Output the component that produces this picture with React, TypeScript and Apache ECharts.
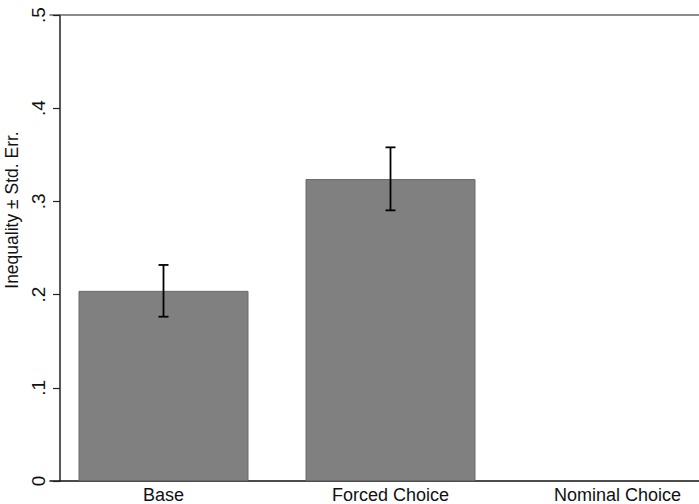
import React, { useEffect, useRef } from "react";
import * as echarts from "echarts";

const categories = ["Base", "Forced Choice", "Nominal Choice"];
const means: (number | null)[] = [0.204, 0.324, null];
const lower: (number | null)[] = [0.1763, 0.2904, null];
const upper: (number | null)[] = [0.2318, 0.358, null];
const yTicks = [0, 0.1, 0.2, 0.3, 0.4, 0.5];

const FONT = "'Liberation Sans', Arial, Helvetica, sans-serif";

export default function App() {
  const ref = useRef<HTMLDivElement>(null);
  useEffect(() => {
    if (!ref.current) return;
    const chart = echarts.init(ref.current, undefined, { renderer: "svg" });
    const errData = categories
      .map((c, i) => (lower[i] == null ? null : [i, lower[i], upper[i]]))
      .filter((d) => d !== null);
    chart.setOption({
      animation: false,
      backgroundColor: "#ffffff",
      textStyle: { fontFamily: FONT },
      grid: { left: 50, right: -32, top: 15, bottom: 23, containLabel: false, outerBoundsMode: "none" },
      xAxis: [
        {
          type: "category",
          data: categories,
          position: "bottom",
          boundaryGap: true,
          axisLine: { show: true, lineStyle: { color: "#111", width: 1.5 } },
          axisTick: { show: false },
          axisLabel: { color: "#111", fontSize: 18, margin: 5, fontFamily: FONT },
          splitLine: { show: false },
        },
        {
          type: "category",
          data: categories,
          position: "top",
          axisLine: { show: true, lineStyle: { color: "#666", width: 1.5 } },
          axisTick: { show: false },
          axisLabel: { show: false },
          splitLine: { show: false },
        },
      ],
      yAxis: {
        type: "value",
        min: 0,
        max: 0.5,
        interval: 0.1,
        offset: -10,
        name: "Inequality \u00b1 Std. Err.",
        nameLocation: "middle",
        nameRotate: 90,
        nameGap: 38,
        nameTextStyle: { color: "#111", fontSize: 17.5, fontFamily: FONT, padding: [0, 0, 0, 76] },
        axisLine: { show: true, lineStyle: { color: "#222", width: 1.5 } },
        axisTick: { show: true, length: 7, lineStyle: { color: "#222", width: 1.2 } },
        axisLabel: {
          color: "#111",
          fontSize: 19,
          rotate: 90,
          margin: 12,
          fontFamily: FONT,
          customValues: yTicks,
          formatter: (v: number) => (v === 0 ? "0" : v.toFixed(1).replace(/^0/, "")),
        },
        splitLine: { show: false },
      },
      series: [
        {
          type: "bar",
          data: means,
          barWidth: 170,
          itemStyle: { color: "#808080", borderColor: "#6a6a6a", borderWidth: 1 },
          z: 2,
        },
        {
          type: "custom",
          data: errData,
          z: 5,
          renderItem: (params: any, api: any) => {
            const x = api.value(0);
            const lo = api.coord([x, api.value(1)]);
            const hi = api.coord([x, api.value(2)]);
            const hw = 5;
            const style = { stroke: "#000", lineWidth: 1.8 };
            return {
              type: "group",
              children: [
                { type: "line", shape: { x1: lo[0], y1: lo[1], x2: hi[0], y2: hi[1] }, style },
                { type: "line", shape: { x1: lo[0] - hw, y1: lo[1], x2: lo[0] + hw, y2: lo[1] }, style },
                { type: "line", shape: { x1: hi[0] - hw, y1: hi[1], x2: hi[0] + hw, y2: hi[1] }, style },
              ],
            };
          },
        },
      ],
    });
    return () => chart.dispose();
  }, []);
  return <div ref={ref} style={{ width: 699, height: 504, position: "absolute", left: 0, top: 0 }} />;
}
